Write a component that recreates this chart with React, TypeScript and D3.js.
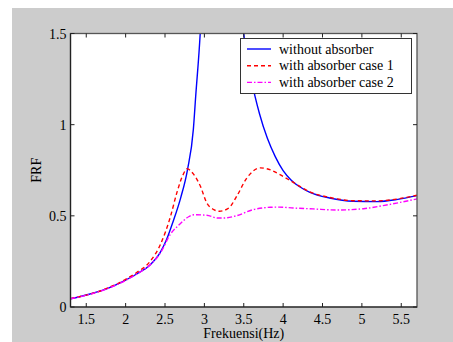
import React from 'react';
import * as d3 from 'd3';

// frequency values (Hz) and FRF readings
const blueF = [1.3, 1.5, 1.72, 2.0, 2.14, 2.31, 2.44, 2.52, 2.6, 2.7, 2.786, 2.86, 2.89, 2.947, 3.0, 3.45, 3.5, 3.6, 3.7, 3.8, 3.9, 4.0, 4.1, 4.2, 4.34, 4.59, 4.89, 5.19, 5.44, 5.7];
const blueV = [0.045, 0.066, 0.094, 0.148, 0.181, 0.231, 0.3, 0.37, 0.465, 0.6, 0.754, 0.974, 1.157, 1.5, 2.0, 1.8, 1.5, 1.24, 1.06, 0.925, 0.825, 0.748, 0.697, 0.662, 0.629, 0.598, 0.58, 0.578, 0.589, 0.611];

const redF = [1.3, 1.72, 2.0, 2.14, 2.31, 2.44, 2.57, 2.65, 2.73, 2.78, 2.86, 2.95, 3.03, 3.12, 3.19, 3.31, 3.41, 3.54, 3.71, 3.84, 3.96, 4.13, 4.34, 4.59, 4.89, 5.19, 5.44, 5.7];
const redV = [0.046, 0.095, 0.152, 0.189, 0.25, 0.341, 0.497, 0.626, 0.726, 0.758, 0.73, 0.662, 0.571, 0.534, 0.525, 0.543, 0.607, 0.708, 0.763, 0.752, 0.726, 0.683, 0.631, 0.601, 0.583, 0.582, 0.592, 0.613];

const magF = [1.3, 1.72, 2.0, 2.14, 2.31, 2.44, 2.57, 2.69, 2.8, 2.87, 3.03, 3.17, 3.25, 3.41, 3.62, 3.84, 3.95, 4.13, 4.38, 4.68, 5.02, 5.27, 5.7];
const magV = [0.045, 0.093, 0.146, 0.18, 0.231, 0.295, 0.4, 0.455, 0.495, 0.506, 0.503, 0.488, 0.488, 0.501, 0.534, 0.547, 0.548, 0.543, 0.538, 0.532, 0.539, 0.556, 0.593];

const xTicks = [1.5, 2, 2.5, 3, 3.5, 4, 4.5, 5, 5.5];
const yTicks = [0, 0.5, 1, 1.5];

const legendNames = ['without absorber', 'with absorber case 1', 'with absorber case 2'];

const W = 453;
const H = 342;
const plot = { left: 70.5, right: 417, top: 33.5, bottom: 307 };
const font = '"Liberation Serif", "Times New Roman", serif';

export default function App() {
  const x = d3.scaleLinear().domain([1.3, 5.7]).range([plot.left, plot.right]);
  const y = d3.scaleLinear().domain([0, 1.5]).range([plot.bottom, plot.top]);

  const line = d3.line<[number, number]>()
    .x(d => x(d[0]))
    .y(d => y(d[1]))
    .curve(d3.curveMonotoneX);

  const series = [
    { name: legendNames[0], pts: blueF.map((f, i) => [f, blueV[i]] as [number, number]), color: '#0000ff', dash: undefined },
    { name: legendNames[1], pts: redF.map((f, i) => [f, redV[i]] as [number, number]), color: '#ff0000', dash: '4,3' },
    { name: legendNames[2], pts: magF.map((f, i) => [f, magV[i]] as [number, number]), color: '#ff00ff', dash: '5,2,1.5,2' },
  ];

  const tickLen = 4;

  return (
    <svg width={W} height={H} style={{ position: 'absolute', left: 0, top: 0 }} fontFamily={font}>
      <rect x={0} y={0} width={W} height={H} fill="#ffffff" />
      <rect x={12} y={8} width={W - 12} height={H - 8} fill="#cccccc" />

      <defs>
        <clipPath id="plot-clip">
          <rect x={plot.left} y={plot.top} width={plot.right - plot.left} height={plot.bottom - plot.top} />
        </clipPath>
      </defs>

      <rect x={plot.left} y={plot.top} width={plot.right - plot.left} height={plot.bottom - plot.top} fill="#ffffff" />

      <g clipPath="url(#plot-clip)">
        {series.map(s => (
          <path key={s.name} d={line(s.pts) || ''} fill="none" stroke={s.color} strokeWidth={1.4} strokeDasharray={s.dash} />
        ))}
      </g>

      {/* box */}
      <rect x={plot.left} y={plot.top} width={plot.right - plot.left} height={plot.bottom - plot.top} fill="none" stroke="#555" strokeWidth={1.3} />
      <line x1={plot.left} x2={plot.left} y1={plot.top} y2={plot.bottom} stroke="#222" strokeWidth={1.2} />
      <line x1={plot.left} x2={plot.right} y1={plot.bottom} y2={plot.bottom} stroke="#222" strokeWidth={1.2} />

      {/* x ticks */}
      {xTicks.map(t => (
        <g key={'x' + t}>
          <line x1={x(t)} x2={x(t)} y1={plot.bottom} y2={plot.bottom - tickLen} stroke="#222" />
          <line x1={x(t)} x2={x(t)} y1={plot.top} y2={plot.top + tickLen} stroke="#222" />
          <text x={x(t)} y={plot.bottom + 17} textAnchor="middle" fontSize={14} fill="#000">{t}</text>
        </g>
      ))}

      {/* y ticks */}
      {yTicks.map(t => (
        <g key={'y' + t}>
          <line x1={plot.left} x2={plot.left + tickLen} y1={y(t)} y2={y(t)} stroke="#222" />
          <line x1={plot.right} x2={plot.right - tickLen} y1={y(t)} y2={y(t)} stroke="#222" />
          <text x={plot.left - 4} y={y(t) + 5} textAnchor="end" fontSize={14} fill="#000">{t}</text>
        </g>
      ))}

      <text x={(plot.left + plot.right) / 2} y={338} textAnchor="middle" fontSize={14} fill="#000">Frekuensi(Hz)</text>
      <text transform={`translate(41, ${(plot.top + plot.bottom) / 2}) rotate(-90)`} textAnchor="middle" fontSize={14} fill="#000">FRF</text>

      {/* legend */}
      <rect x={240.5} y={38.5} width={171} height={55} fill="#ffffff" stroke="#333" strokeWidth={1} />
      {series.map((s, i) => {
        const ly = 49 + i * 16.7;
        return (
          <g key={'leg' + i}>
            <line x1={247} x2={271} y1={ly} y2={ly} stroke={s.color} strokeWidth={1.4} strokeDasharray={s.dash} />
            <text x={279} y={ly + 4.5} fontSize={14} fill="#000">{s.name}</text>
          </g>
        );
      })}
    </svg>
  );
}
